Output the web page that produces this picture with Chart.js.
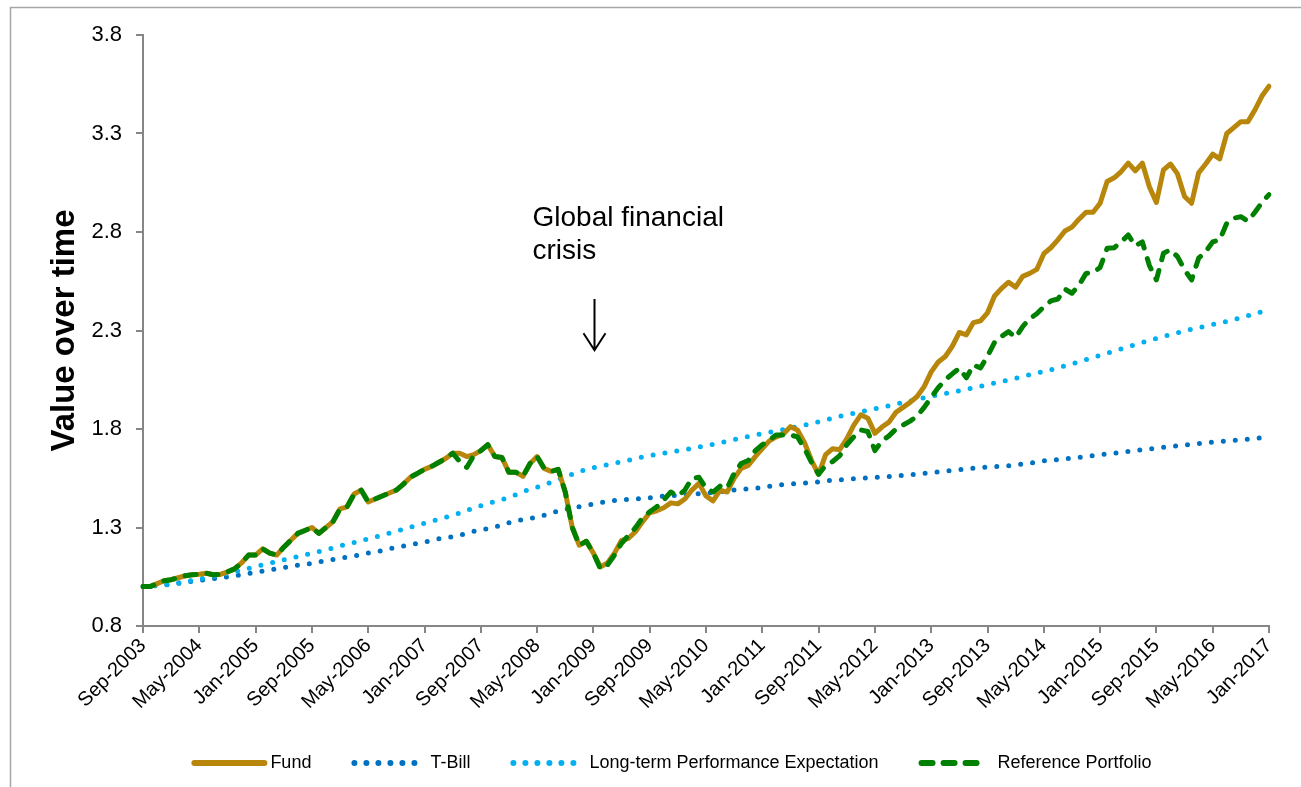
<!DOCTYPE html>
<html>
<head>
<meta charset="utf-8">
<title>Value over time</title>
<script src="https://cdn.jsdelivr.net/npm/chart.js@4.4.1/dist/chart.umd.min.js"></script>
<style>
  html, body { margin: 0; padding: 0; background: #fff; }
  #wrap { width: 1301px; height: 787px; }
</style>
</head>
<body>
<div id="wrap"><canvas id="valueChart" width="1301" height="787"></canvas></div>
<script>
// monthly series, Sep-2003 .. Jan-2017
const startYear = 2003;
const startMonth = 8; // Sep
const monthNames = ['Jan', 'Feb', 'Mar', 'Apr', 'May', 'Jun', 'Jul', 'Aug', 'Sep', 'Oct', 'Nov', 'Dec'];
const tickStep = 8;
const yTicks = [0.8, 1.3, 1.8, 2.3, 2.8, 3.3, 3.8];

const fund = [
  1.00, 1.00, 1.015, 1.03, 1.035, 1.045, 1.055, 1.06, 1.063, 1.068,
  1.06, 1.062, 1.075, 1.09, 1.12, 1.16, 1.16, 1.192, 1.17, 1.16,
  1.20, 1.235, 1.27, 1.285, 1.30, 1.27, 1.30, 1.33, 1.395, 1.405,
  1.47, 1.49, 1.43, 1.445, 1.46, 1.475, 1.49, 1.52, 1.555, 1.575,
  1.595, 1.61, 1.63, 1.65, 1.677, 1.677, 1.66, 1.67, 1.69, 1.72,
  1.66, 1.655, 1.58, 1.58, 1.56, 1.625, 1.66, 1.60, 1.585, 1.595,
  1.48, 1.30, 1.21, 1.23, 1.17, 1.10, 1.12, 1.17, 1.235, 1.245,
  1.28, 1.33, 1.375, 1.385, 1.40, 1.425, 1.42, 1.445, 1.49, 1.524,
  1.46, 1.435, 1.49, 1.48, 1.55, 1.60, 1.615, 1.66, 1.70, 1.74,
  1.76, 1.775, 1.812, 1.795, 1.73, 1.64, 1.57, 1.67, 1.70, 1.695,
  1.75, 1.82, 1.872, 1.855, 1.778, 1.81, 1.835, 1.885, 1.91, 1.935,
  1.965, 2.015, 2.09, 2.14, 2.168, 2.22, 2.29, 2.278, 2.34, 2.349,
  2.39, 2.475, 2.514, 2.545, 2.52, 2.575, 2.59, 2.61, 2.69, 2.72,
  2.76, 2.805, 2.825, 2.865, 2.90, 2.90, 2.946, 3.056, 3.075, 3.107,
  3.15, 3.11, 3.15, 3.03, 2.95, 3.115, 3.145, 3.095, 2.98, 2.946,
  3.10, 3.145, 3.195, 3.171, 3.30, 3.33, 3.36, 3.36, 3.42, 3.49,
  3.54
];

const tBill = [
  1.000, 1.003, 1.005, 1.008, 1.011, 1.016, 1.021, 1.027, 1.032, 1.036,
  1.040, 1.045, 1.049, 1.054, 1.060, 1.067, 1.072, 1.078, 1.084, 1.090,
  1.096, 1.103, 1.109, 1.114, 1.118, 1.125, 1.131, 1.138, 1.144, 1.149,
  1.155, 1.162, 1.170, 1.177, 1.183, 1.192, 1.199, 1.206, 1.212, 1.220,
  1.226, 1.233, 1.242, 1.249, 1.253, 1.260, 1.270, 1.280, 1.288, 1.294,
  1.302, 1.313, 1.324, 1.334, 1.341, 1.346, 1.352, 1.362, 1.372, 1.384,
  1.392, 1.400, 1.406, 1.412, 1.419, 1.426, 1.433, 1.437, 1.440, 1.443,
  1.445, 1.447, 1.451, 1.456, 1.459, 1.461, 1.464, 1.466, 1.469, 1.472,
  1.474, 1.477, 1.481, 1.486, 1.490, 1.494, 1.497, 1.499, 1.502, 1.509,
  1.515, 1.518, 1.521, 1.524, 1.526, 1.528, 1.532, 1.537, 1.540, 1.542,
  1.545, 1.547, 1.550, 1.552, 1.555, 1.557, 1.559, 1.562, 1.565, 1.567,
  1.571, 1.575, 1.579, 1.583, 1.587, 1.590, 1.593, 1.597, 1.601, 1.605,
  1.607, 1.609, 1.611, 1.614, 1.618, 1.622, 1.626, 1.632, 1.638, 1.641,
  1.644, 1.648, 1.652, 1.656, 1.660, 1.665, 1.669, 1.673, 1.677, 1.681,
  1.686, 1.690, 1.695, 1.699, 1.703, 1.707, 1.711, 1.715, 1.719, 1.722,
  1.726, 1.730, 1.733, 1.736, 1.739, 1.742, 1.745, 1.748, 1.752, 1.756,
  1.760
];

const longTerm = [
  1.000, 1.003, 1.006, 1.009, 1.014, 1.019, 1.025, 1.031, 1.038, 1.045,
  1.052, 1.059, 1.067, 1.075, 1.083, 1.092, 1.101, 1.110, 1.119, 1.127,
  1.136, 1.144, 1.152, 1.161, 1.170, 1.178, 1.187, 1.196, 1.206, 1.216,
  1.224, 1.233, 1.243, 1.252, 1.261, 1.271, 1.281, 1.291, 1.301, 1.311,
  1.321, 1.331, 1.342, 1.352, 1.362, 1.373, 1.386, 1.400, 1.411, 1.422,
  1.432, 1.442, 1.452, 1.467, 1.482, 1.495, 1.505, 1.515, 1.530, 1.545,
  1.557, 1.570, 1.583, 1.595, 1.604, 1.612, 1.619, 1.626, 1.634, 1.641,
  1.649, 1.658, 1.665, 1.671, 1.677, 1.683, 1.689, 1.695, 1.701, 1.708,
  1.715, 1.722, 1.730, 1.738, 1.746, 1.755, 1.762, 1.769, 1.776, 1.783,
  1.790, 1.797, 1.805, 1.812, 1.820, 1.829, 1.837, 1.846, 1.855, 1.865,
  1.873, 1.880, 1.888, 1.895, 1.903, 1.910, 1.918, 1.926, 1.934, 1.942,
  1.950, 1.958, 1.966, 1.973, 1.980, 1.987, 1.994, 2.001, 2.009, 2.017,
  2.025, 2.033, 2.041, 2.049, 2.058, 2.066, 2.075, 2.083, 2.092, 2.101,
  2.111, 2.121, 2.131, 2.141, 2.152, 2.163, 2.174, 2.185, 2.196, 2.207,
  2.218, 2.229, 2.239, 2.249, 2.259, 2.269, 2.279, 2.289, 2.298, 2.306,
  2.314, 2.322, 2.330, 2.338, 2.346, 2.355, 2.365, 2.375, 2.385, 2.395,
  2.405
];

const reference = [
  1.00, 1.00, 1.015, 1.03, 1.035, 1.045, 1.055, 1.06, 1.063, 1.068,
  1.06, 1.062, 1.075, 1.09, 1.12, 1.16, 1.16, 1.192, 1.17, 1.16,
  1.20, 1.235, 1.27, 1.285, 1.30, 1.27, 1.30, 1.33, 1.395, 1.405,
  1.47, 1.49, 1.43, 1.445, 1.46, 1.475, 1.49, 1.52, 1.555, 1.575,
  1.595, 1.61, 1.63, 1.65, 1.677, 1.635, 1.605, 1.665, 1.69, 1.72,
  1.66, 1.655, 1.58, 1.58, 1.56, 1.625, 1.66, 1.60, 1.585, 1.595,
  1.48, 1.30, 1.21, 1.23, 1.17, 1.09, 1.11, 1.16, 1.22, 1.26,
  1.30, 1.35, 1.38, 1.405, 1.44, 1.48, 1.46, 1.49, 1.55, 1.555,
  1.50, 1.48, 1.51, 1.50, 1.575, 1.625, 1.64, 1.69, 1.72, 1.745,
  1.77, 1.77, 1.77, 1.76, 1.70, 1.63, 1.57, 1.615, 1.635, 1.665,
  1.72, 1.76, 1.795, 1.787, 1.69, 1.74, 1.765, 1.80, 1.82, 1.84,
  1.865, 1.91, 1.96, 2.01, 2.05, 2.08, 2.108, 2.06, 2.125, 2.11,
  2.17, 2.24, 2.27, 2.294, 2.265, 2.32, 2.36, 2.385, 2.42, 2.45,
  2.46, 2.51, 2.489, 2.53, 2.59, 2.595, 2.62, 2.717, 2.72, 2.75,
  2.785, 2.73, 2.75, 2.63, 2.557, 2.692, 2.71, 2.675, 2.608, 2.557,
  2.667, 2.70, 2.75, 2.76, 2.845, 2.87, 2.878, 2.855, 2.90, 2.95,
  2.99
];

const noteLines = ['Global financial', 'crisis'];
const noteMonth = 'Jan-2009';
const noteTextValue = 2.83;
const arrowFrom = 2.46;
const arrowTo = 2.20;

const months = [];
for (let i = 0; i < fund.length; i++) {
    const m = startMonth + i;
    months.push(monthNames[m % 12] + '-' + (startYear + Math.floor(m / 12)));
}

Chart.defaults.font.family = '"Liberation Sans", Arial, sans-serif';
Chart.defaults.color = '#000';

// frame + white background
const framePlugin = {
    id: 'frame',
    beforeDraw(chart) {
        const ctx = chart.ctx;
        ctx.save();
        ctx.fillStyle = '#fff';
        ctx.fillRect(0, 0, chart.width, chart.height);
        ctx.strokeStyle = '#a6a6a6';
        ctx.lineWidth = 1.5;
        ctx.beginPath();
        ctx.moveTo(10.5, chart.height);
        ctx.lineTo(10.5, 7.5);
        ctx.lineTo(chart.width, 7.5);
        ctx.stroke();
        ctx.restore();
    }
};

const notePlugin = {
    id: 'crisisNote',
    afterDatasetsDraw(chart) {
        const { ctx, scales: { x, y } } = chart;
        const ax = Math.round(x.getPixelForValue(months.indexOf(noteMonth))) + 1.5;
        const y1 = y.getPixelForValue(arrowFrom);
        const y2 = y.getPixelForValue(arrowTo);
        ctx.save();
        ctx.fillStyle = '#000';
        ctx.font = '28px "Liberation Sans", Arial, sans-serif';
        ctx.textBaseline = 'alphabetic';
        const ty = y.getPixelForValue(noteTextValue);
        noteLines.forEach((line, k) => ctx.fillText(line, ax - 62, ty + k * 33));

        ctx.strokeStyle = '#000';
        ctx.lineWidth = 2;
        ctx.beginPath();
        ctx.moveTo(ax, y1);
        ctx.lineTo(ax, y2);
        ctx.moveTo(ax - 11, y2 - 17);
        ctx.lineTo(ax, y2);
        ctx.lineTo(ax + 11, y2 - 17);
        ctx.stroke();
        ctx.restore();
    }
};

const legendOrder = [0, 1, 2, 3];
const legendPlugin = {
    id: 'bottomLegend',
    afterDraw(chart) {
        const ctx = chart.ctx;
        const sample = 66, textOffset = 78, itemGap = 41;
        ctx.save();
        ctx.font = '18px "Liberation Sans", Arial, sans-serif';
        const items = legendOrder.map(i => chart.data.datasets[i]);
        const widths = items.map(ds => textOffset + ctx.measureText(ds.label).width);
        const total = widths.reduce((a, b) => a + b, 0) + itemGap * (items.length - 1);
        let x = (chart.chartArea.left + chart.chartArea.right) / 2 - 34 - total / 2;
        const y = chart.chartArea.bottom + 137;
        items.forEach((ds, k) => {
            const end = ds.borderDash ? sample : sample + 6;
            ctx.beginPath();
            ctx.strokeStyle = ds.borderColor;
            ctx.lineWidth = ds.borderWidth + 1;
            ctx.lineCap = ds.borderCapStyle || 'butt';
            ctx.setLineDash(ds.borderDash || []);
            ctx.moveTo(x + 2, y);
            ctx.lineTo(x + end, y);
            ctx.stroke();
            ctx.setLineDash([]);
            ctx.fillStyle = '#000';
            ctx.textBaseline = 'middle';
            ctx.fillText(ds.label, x + textOffset, y);
            x += widths[k] + itemGap;
        });
        ctx.restore();
    }
};

const ctx = document.getElementById('valueChart');

new Chart(ctx, {
    type: 'line',
    data: {
        labels: months,
        datasets: [
            {
                label: 'Fund',
                data: fund,
                borderColor: '#b8860b',
                borderWidth: 5,
                borderCapStyle: 'round',
                order: 1
            },
            {
                label: 'T-Bill',
                data: tBill,
                borderColor: '#0070c0',
                borderWidth: 5,
                borderDash: [0, 12],
                borderCapStyle: 'round',
                order: 3
            },
            {
                label: 'Long-term Performance Expectation',
                data: longTerm,
                borderColor: '#00b0f0',
                borderWidth: 5,
                borderDash: [0, 12],
                borderCapStyle: 'round',
                order: 2
            },
            {
                label: 'Reference Portfolio',
                data: reference,
                borderColor: '#008000',
                borderWidth: 5,
                borderDash: [11, 11],
                borderCapStyle: 'round',
                order: 0
            }
        ]
    },
    options: {
        responsive: false,
        animation: false,
        elements: {
            point: { radius: 0, hoverRadius: 0 },
            line: { tension: 0, fill: false, borderJoinStyle: 'round' }
        },
        layout: {
            padding: { top: 35, right: 32, bottom: 0, left: 0 }
        },
        plugins: {
            legend: { display: false },
            tooltip: { enabled: false }
        },
        scales: {
            x: {
                afterFit: scale => { scale.height = 161; },
                grid: {
                    drawOnChartArea: false,
                    tickLength: 7,
                    lineWidth: 2,
                    color: '#868686'
                },
                border: { color: '#868686', width: 2 },
                ticks: {
                    autoSkip: false,
                    maxRotation: 45,
                    minRotation: 45,
                    padding: 1,
                    font: { size: 20 },
                    callback: (v, i) => i % tickStep === 0 ? months[i] : null
                }
            },
            y: {
                min: 0.8,
                max: 3.8,
                afterBuildTicks: scale => { scale.ticks = yTicks.map(v => ({ value: v })); },
                afterFit: scale => { scale.width = 143; },
                grid: { drawOnChartArea: false, tickLength: 7, lineWidth: 2, color: '#868686' },
                border: { color: '#868686', width: 2 },
                ticks: {
                    padding: 14,
                    font: { size: 22 },
                    callback: v => v.toFixed(1)
                },
                title: {
                    display: true,
                    text: 'Value over time',
                    font: { size: 33, weight: 'bold' },
                    padding: { top: 45, bottom: 0 }
                }
            }
        }
    },
    plugins: [framePlugin, notePlugin, legendPlugin]
});
</script>
</body>
</html>
